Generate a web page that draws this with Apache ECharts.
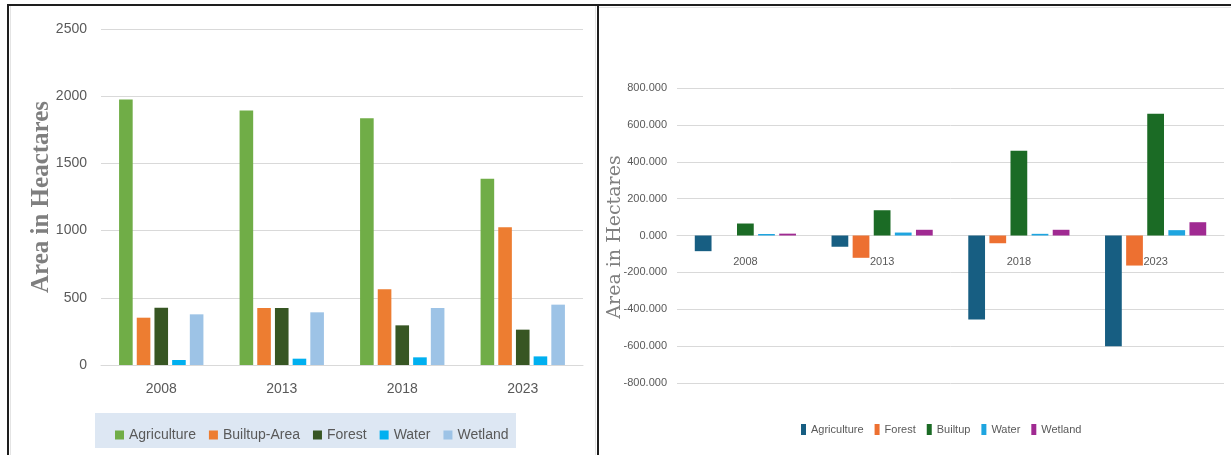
<!DOCTYPE html>
<html>
<head>
<meta charset="utf-8">
<script src="https://cdn.jsdelivr.net/npm/echarts@6/dist/echarts.min.js"></script>
<style>
  html, body { margin: 0; padding: 0; background: #ffffff; }
  #page { position: relative; width: 1231px; height: 455px; background: #ffffff; overflow: hidden; }
  #areaChart { position: absolute; left: 0; top: 0; width: 598px; height: 455px; }
  #changeChart { position: absolute; left: 599px; top: 0; width: 632px; height: 455px; }
  .rule { position: absolute; background: #1e1e1e; }
  .faint { position: absolute; background: #e4e4e4; }
</style>
</head>
<body>
<div id="page">
  <div id="areaChart"></div>
  <div id="changeChart"></div>
  <div class="faint" style="left:10px; top:6px; width:1px; height:449px;"></div>
  <div class="faint" style="left:595px; top:6px; width:1px; height:449px;"></div>
  <div class="faint" style="left:599px; top:7px; width:632px; height:1px;"></div>
  <div class="rule" style="left:7px; top:4px; width:1224px; height:2px;"></div>
  <div class="rule" style="left:7px; top:4px; width:2px; height:451px;"></div>
  <div class="rule" style="left:597px; top:4px; width:2px; height:451px;"></div>
</div>
<script>
// Land-use area by year (hectares)
const years = ['2008', '2013', '2018', '2023'];
const agricultureArea = [1975, 1893, 1836, 1385];
const builtupArea = [352, 424, 563, 1024];
const forestArea = [426, 424, 295, 263];
const waterArea = [37, 47, 57, 64];
const wetlandArea = [377, 392, 424, 449];

// Change in area relative to the previous period (hectares)
const agricultureChange = [-85, -61, -455, -600];
const forestChange = [0, -121, -42, -163];
const builtupChange = [65, 137, 459, 661];
const waterChange = [8, 16, 9, 29];
const wetlandChange = [10, 31, 31, 72];

const areaTicks = { min: 0, max: 2500, interval: 500 };
const changeTicks = { min: -800, max: 800, interval: 200 };

const sansFont = "'Liberation Sans', Arial, sans-serif";
const labelGrey = '#595959';
const gridGrey = '#d9d9d9';

function barSeries(name, data, color, gap) {
  return {
    name: name,
    type: 'bar',
    data: data,
    barGap: gap,
    barCategoryGap: gap,
    itemStyle: { color: color },
    emphasis: { disabled: true }
  };
}

// ---- Left: area in hectares ----
const areaChart = echarts.init(document.getElementById('areaChart'), null, { renderer: 'canvas' });
const areaColors = {
  Agriculture: '#70ad47',
  'Builtup-Area': '#ed7d31',
  Forest: '#375623',
  Water: '#00b0f0',
  Wetland: '#9dc3e6'
};
areaChart.setOption({
  animation: false,
  backgroundColor: 'transparent',
  graphic: [
    {
      type: 'rect',
      shape: { x: 95, y: 413, width: 421, height: 35 },
      style: { fill: '#dde7f3' },
      z: -1
    },
    {
      type: 'text',
      x: 42,
      y: 197,
      rotation: Math.PI / 2,
      style: {
        text: 'Area in Heactares',
        font: "bold 25px 'Liberation Serif', serif",
        fill: '#7f7f7f',
        align: 'center',
        verticalAlign: 'middle'
      }
    }
  ],
  grid: { left: 101, right: 15, top: 29, bottom: 90, outerBoundsMode: 'none' },
  legend: {
    left: 110,
    top: 423,
    itemWidth: 9,
    itemHeight: 9,
    itemGap: 13,
    icon: 'rect',
    textStyle: { fontFamily: sansFont, fontSize: 14, color: labelGrey },
    data: ['Agriculture', 'Builtup-Area', 'Forest', 'Water', 'Wetland']
  },
  xAxis: {
    type: 'category',
    data: years,
    axisLine: { show: true, lineStyle: { color: gridGrey, width: 1 } },
    axisTick: { show: false },
    axisLabel: { margin: 17, fontFamily: sansFont, fontSize: 14, color: labelGrey }
  },
  yAxis: {
    type: 'value',
    min: areaTicks.min,
    max: areaTicks.max,
    interval: areaTicks.interval,
    axisLine: { show: false },
    axisTick: { show: false },
    axisLabel: {
      margin: 14,
      fontFamily: sansFont,
      fontSize: 14,
      color: labelGrey,
      formatter: function (v) { return String(v); }
    },
    splitLine: { lineStyle: { color: gridGrey, width: 1 } }
  },
  series: [
    barSeries('Agriculture', agricultureArea, areaColors.Agriculture, '30%'),
    barSeries('Builtup-Area', builtupArea, areaColors['Builtup-Area'], '30%'),
    barSeries('Forest', forestArea, areaColors.Forest, '30%'),
    barSeries('Water', waterArea, areaColors.Water, '30%'),
    barSeries('Wetland', wetlandArea, areaColors.Wetland, '30%')
  ]
});

// ---- Right: change in hectares ----
const changeChart = echarts.init(document.getElementById('changeChart'), null, { renderer: 'canvas' });
const changeColors = {
  Agriculture: '#175e82',
  Forest: '#ed7031',
  Builtup: '#1b6b25',
  Water: '#1ea5e0',
  Wetland: '#a02a92'
};
const changeGrid = { left: 78, right: 7, top: 88, bottom: 72 };
changeChart.setOption({
  animation: false,
  backgroundColor: 'transparent',
  graphic: [{
    type: 'text',
    x: 16,
    y: 237,
    rotation: Math.PI / 2,
    style: {
      text: 'Area in Hectares',
      font: "19px 'DejaVu Serif', serif",
      fill: '#808080',
      align: 'center',
      verticalAlign: 'middle'
    }
  }],
  grid: Object.assign({ outerBoundsMode: 'none' }, changeGrid),
  legend: {
    left: 197,
    top: 419,
    itemWidth: 5,
    itemHeight: 11,
    itemGap: 11,
    icon: 'rect',
    textStyle: { fontFamily: sansFont, fontSize: 11, color: labelGrey },
    data: ['Agriculture', 'Forest', 'Builtup', 'Water', 'Wetland']
  },
  xAxis: {
    type: 'category',
    data: years,
    // category labels sit just under the zero line, halfway down the symmetric value range
    position: 'bottom',
    offset: -(455 - changeGrid.top - changeGrid.bottom) / 2,
    axisLine: { show: true, onZero: false, lineStyle: { color: gridGrey, width: 1 } },
    axisTick: { show: false },
    axisLabel: { margin: 21, fontFamily: sansFont, fontSize: 11, color: labelGrey }
  },
  yAxis: {
    type: 'value',
    min: changeTicks.min,
    max: changeTicks.max,
    interval: changeTicks.interval,
    axisLine: { show: false },
    axisTick: { show: false },
    axisLabel: {
      margin: 10,
      fontFamily: sansFont,
      fontSize: 11,
      color: labelGrey,
      formatter: function (v) { return v.toFixed(3); }
    },
    splitLine: { lineStyle: { color: gridGrey, width: 1 } }
  },
  series: [
    barSeries('Agriculture', agricultureChange, changeColors.Agriculture, '26%'),
    barSeries('Forest', forestChange, changeColors.Forest, '26%'),
    barSeries('Builtup', builtupChange, changeColors.Builtup, '26%'),
    barSeries('Water', waterChange, changeColors.Water, '26%'),
    barSeries('Wetland', wetlandChange, changeColors.Wetland, '26%')
  ]
});
</script>
</body>
</html>
